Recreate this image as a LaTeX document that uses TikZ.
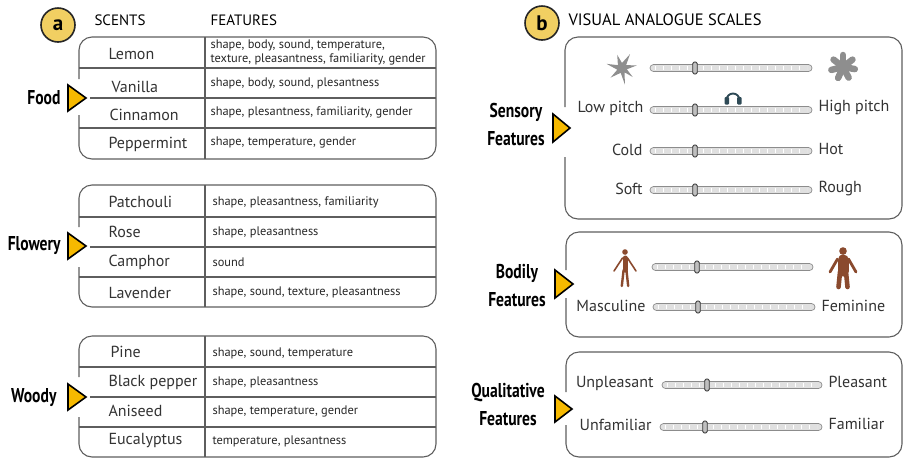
\documentclass[tikz,border=0pt]{standalone}
\usepackage{fontspec}
\setmainfont{PT Sans}
\newfontfamily\narrowbf{PT Sans Bold}[FakeStretch=0.78]
\usepackage{tikz}

\definecolor{badgefill}{HTML}{F1CF62}
\definecolor{tipfill}{HTML}{F6B900}
\definecolor{frameline}{HTML}{5E5E5E}
\definecolor{skin}{HTML}{8A4A2E}
\definecolor{icongray}{HTML}{8E8E8E}
\definecolor{phones}{HTML}{2E4A56}

\tikzset{
  badge/.style={circle,draw=black!85,line width=1.6pt,fill=badgefill,minimum size=34pt,inner sep=0pt,font=\fontsize{21}{22}\selectfont\bfseries},
  colhead/.style={anchor=west,font=\fontsize{15}{17}\selectfont},
  group/.style={align=center,font=\fontsize{20}{28}\selectfont\narrowbf},
  scent/.style={anchor=west,text=black!80,font=\fontsize{16}{18}\selectfont},
  feat/.style={anchor=west,align=left,text=black!85,font=\fontsize{12.4}{14}\selectfont},
  frame/.style={draw=frameline,line width=1.1pt,rounded corners=13pt},
  rowline/.style={draw=frameline,line width=1.1pt},
  pointer/.style={draw=black,line width=1.6pt,fill=tipfill,line join=miter},
  lowend/.style={anchor=east,text=black!80,font=\fontsize{16}{18}\selectfont},
  highend/.style={anchor=west,text=black!80,font=\fontsize{16}{18}\selectfont},
  track/.style={draw=black!45,fill=black!12,line width=0.7pt,rounded corners=3.5pt},
  knob/.style={draw=black!80,fill=black!25,line width=0.8pt,rounded corners=1.5pt,minimum width=4.5pt,minimum height=12pt,inner sep=0pt}
}

% slider: name, left end, right end, height, knob position
\newcommand{\vasbar}[5]{%
  \draw[track] (#2,#4-3.5) rectangle (#3,#4+3.5);
  \draw[white,line width=4pt,dash pattern=on 0.8pt off 7.2pt] (#2+5,#4) -- (#3-5,#4);
  \node[knob] (#1) at (#5,#4) {};
}

\begin{document}
\begin{tikzpicture}[x=1pt,y=-1pt]
\useasboundingbox (0,0) rectangle (904,459);

% ---- a: scents and their features
\node[badge] (badgea) at (58,25) {a};
\node[colhead] (scentshead) at (91,20) {SCENTS};
\node[colhead] (featshead) at (207,20) {FEATURES};

% food
\draw[frame] (79,115) -- (79,159) -- (436,159) -- (436,37) -- (79,37) -- (79,79);
\draw[rowline] (79,68) -- (436,68);
\draw[rowline] (90,98) -- (436,98);
\draw[rowline] (79,128) -- (436,128);
\draw[rowline] (205,37) -- (205,159);
\draw[pointer] (68,85) -- (86,98) -- (68,111) -- cycle;
\node[group,anchor=east] (food) at (64,98) {Food};
\node[scent] (lemon) at (105,54) {Lemon};
\node[scent] (vanilla) at (108,87) {Vanilla};
\node[scent] (cinnamon) at (106,115) {Cinnamon};
\node[scent] (peppermint) at (105,144) {Peppermint};
\node[feat] (lemonf) at (207,52) {shape, body, sound, temperature,\\texture, pleasantness, familiarity, gender};
\node[feat] (vanillaf) at (207,83) {shape, body, sound, plesantness};
\node[feat] (cinnamonf) at (207,112) {shape, plesantness, familiarity, gender};
\node[feat] (peppermintf) at (207,142) {shape, temperature, gender};

% flowery
\draw[frame] (79,267) -- (79,307) -- (436,307) -- (436,185) -- (79,185) -- (79,227);
\draw[rowline] (79,217) -- (436,217);
\draw[rowline] (90,247) -- (436,247);
\draw[rowline] (79,277) -- (436,277);
\draw[rowline] (205,185) -- (205,307);
\draw[pointer] (68,233) -- (86,246) -- (68,259) -- cycle;
\node[group,anchor=east] (flowery) at (64,246) {Flowery};
\node[scent] (patchouli) at (105,202) {Patchouli};
\node[scent] (rose) at (105,232) {Rose};
\node[scent] (camphor) at (105,262) {Camphor};
\node[scent] (lavender) at (105,293) {Lavender};
\node[feat] (patchoulif) at (209,202) {shape, pleasantness, familiarity};
\node[feat] (rosef) at (209,232) {shape, pleasantness};
\node[feat] (camphorf) at (209,262) {sound};
\node[feat] (lavenderf) at (209,292) {shape, sound, texture, pleasantness};

% woody
\draw[frame] (79,417) -- (79,457) -- (436,457) -- (436,336) -- (79,336) -- (79,377);
\draw[rowline] (79,367) -- (436,367);
\draw[rowline] (90,397) -- (436,397);
\draw[rowline] (79,427) -- (436,427);
\draw[rowline] (205,336) -- (205,457);
\draw[pointer] (68,384) -- (86,397) -- (68,410) -- cycle;
\node[group,anchor=east] (woody) at (60,398) {Woody};
\node[scent] (pine) at (107,352) {Pine};
\node[scent] (blackpepper) at (105,382) {Black pepper};
\node[scent] (aniseed) at (105,411) {Aniseed};
\node[scent] (eucalyptus) at (105,441) {Eucalyptus};
\node[feat] (pinef) at (209,353) {shape, sound, temperature};
\node[feat] (blackpepperf) at (209,382) {shape, pleasantness};
\node[feat] (aniseedf) at (209,411) {shape, temperature, gender};
\node[feat] (eucalyptusf) at (209,441) {temperature, plesantness};

% ---- b: visual analogue scales
\node[badge] (badgeb) at (542,23) {b};
\node[colhead,font=\fontsize{16.5}{18}\selectfont] (vashead) at (565,20) {VISUAL ANALOGUE SCALES};

% sensory
\draw[frame] (565,157) -- (565,219) -- (902,219) -- (902,37) -- (565,37) -- (565,107);
\draw[pointer] (553,114) -- (570,128) -- (553,142) -- cycle;
\node[group] (sensory) at (516,124) {Sensory\\Features};
\begin{scope}[shift={(622,68)}]
  \fill[icongray] (80:17) -- (105:5) -- (140:15) -- (160:5) -- (195:16) -- (215:5) -- (250:14)
    -- (270:5) -- (300:16) -- (325:5) -- (350:15) -- (15:5) -- (40:14) -- (60:5) -- cycle;
\end{scope}
\begin{scope}[shift={(843,67)}]
  \fill[icongray] (0,0) circle (7);
  \foreach \a in {10,62,...,322}
    \draw[icongray,line width=6.5pt,line cap=round] (0,0) -- (\a:12);
\end{scope}
\vasbar{shapeknob}{650}{812}{68}{695}
\draw[phones,line width=1.9pt] (726.5,100) arc (180:360:6.5);
\fill[phones,rounded corners=1pt] (724.5,97) rectangle (729,104.5);
\fill[phones,rounded corners=1pt] (737,97) rectangle (741.5,104.5);
\node[lowend] (lowpitch) at (647,108) {Low pitch};
\node[highend] (highpitch) at (815,108) {High pitch};
\vasbar{pitchknob}{650}{812}{110}{695}
\node[lowend] (cold) at (646,150) {Cold};
\node[highend] (hot) at (815,149) {Hot};
\vasbar{heatknob}{650}{812}{151}{695}
\node[lowend] (soft) at (646,189) {Soft};
\node[highend] (rough) at (815,189) {Rough};
\vasbar{roughknob}{650}{812}{190}{695}

% bodily
\draw[frame] (566,298) -- (566,337) -- (902,337) -- (902,232) -- (566,232) -- (566,270);
\draw[pointer] (555,270) -- (573,284) -- (555,298) -- cycle;
\node[group] (bodily) at (517,286) {Bodily\\Features};
% slim figure
\fill[skin] (625,252) circle (2.8);
\draw[skin,line width=5pt,line cap=round] (625,258) -- (625,270);
\draw[skin,line width=2.4pt,line cap=round] (623.6,270) -- (621.8,286) (626.4,270) -- (628.2,286);
\draw[skin,line width=1.6pt,line cap=round] (622.5,258) -- (614,271) (627.5,258) -- (636,271);
% heavy figure
\fill[skin] (843,251) circle (3.8);
\draw[skin,line width=11pt,line cap=round] (843,260) -- (843,271);
\draw[skin,line width=4.6pt,line cap=round] (840,272) -- (838.5,287) (846,272) -- (847.5,287);
\draw[skin,line width=2.8pt,line cap=round] (837.5,259) -- (830,272) (848.5,259) -- (856,272);
\vasbar{bodyknob}{652}{813}{267}{697}
\node[lowend] (masculine) at (649,306) {Masculine};
\node[highend] (feminine) at (818,306) {Feminine};
\vasbar{genderknob}{653}{815}{307}{698}

% qualitative
\draw[frame] (566,425) -- (566,457) -- (902,457) -- (902,352) -- (566,352) -- (566,392);
\draw[pointer] (555,396) -- (572,409) -- (555,422) -- cycle;
\node[group] (qualitative) at (508,404) {Qualitative\\Features};
\node[lowend] (unpleasant) at (657,383) {Unpleasant};
\node[highend] (pleasant) at (825,382) {Pleasant};
\vasbar{pleasantknob}{662}{822}{385}{707}
\node[lowend] (unfamiliar) at (655,425) {Unfamiliar};
\node[highend] (familiar) at (825,424) {Familiar};
\vasbar{familiarknob}{660}{822}{427}{705}
\end{tikzpicture}
\end{document}
